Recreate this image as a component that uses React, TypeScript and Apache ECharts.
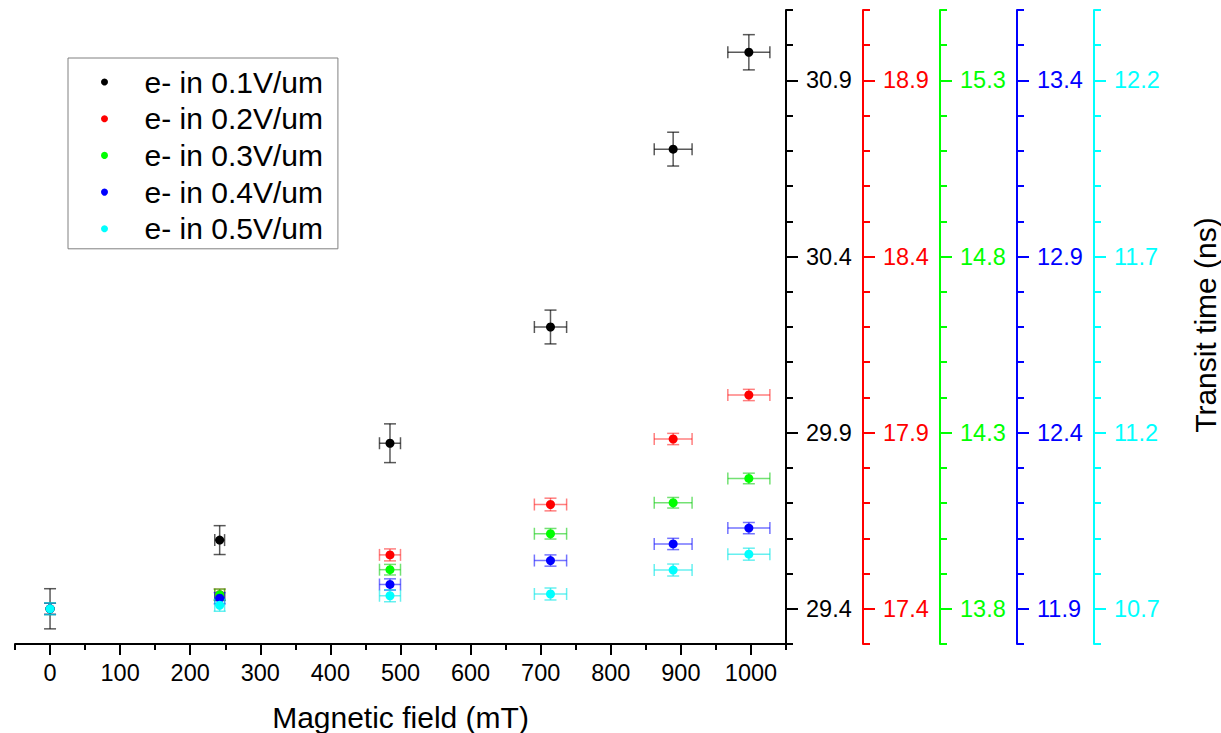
import React, { useEffect, useRef } from "react";
import * as echarts from "echarts";

// Magnetic field (mT) and its uncertainty
const fieldValues = [0, 242, 485, 714, 889, 997];
const fieldErrors = [0, 7, 15, 23, 27, 30];

// Transit times (ns) per drift field
const seriesNames = ["e- in 0.1V/um", "e- in 0.2V/um", "e- in 0.3V/um", "e- in 0.4V/um", "e- in 0.5V/um"];
const time01 = [29.4, 29.595, 29.87, 30.2, 30.705, 30.98];
const err01 = [0.057, 0.041, 0.055, 0.048, 0.048, 0.05];
const time02 = [17.4, 17.44, 17.553, 17.696, 17.882, 18.007];
const err02 = [0.016, 0.016, 0.017, 0.018, 0.016, 0.016];
const time03 = [13.8, 13.84, 13.911, 14.013, 14.101, 14.17];
const err03 = [0.016, 0.016, 0.015, 0.015, 0.015, 0.015];
const time04 = [11.9, 11.93, 11.969, 12.037, 12.084, 12.129];
const err04 = [0.016, 0.016, 0.016, 0.016, 0.016, 0.016];
const time05 = [10.7, 10.71, 10.737, 10.742, 10.81, 10.855];
const err05 = [0.017, 0.017, 0.017, 0.017, 0.017, 0.017];

// Axis extents and labelled ticks
const axisMins = [29.3, 17.3, 13.7, 11.8, 10.6];
const axisMaxs = [31.1, 19.1, 15.5, 13.6, 12.4];
const majorTicks01 = [29.4, 29.9, 30.4, 30.9];
const majorTicks02 = [17.4, 17.9, 18.4, 18.9];
const majorTicks03 = [13.8, 14.3, 14.8, 15.3];
const majorTicks04 = [11.9, 12.4, 12.9, 13.4];
const majorTicks05 = [10.7, 11.2, 11.7, 12.2];
const xTickLabels = [0, 100, 200, 300, 400, 500, 600, 700, 800, 900, 1000];

const FONT = "'Liberation Sans', Arial, sans-serif";
const colors = ["#000000", "#ff0000", "#00ff00", "#0000ff", "#00ffff"];
const errColors = ["rgba(0,0,0,0.65)", "rgba(255,0,0,0.5)", "rgba(0,200,0,0.55)", "rgba(0,0,255,0.55)", "rgba(0,230,230,0.6)"];
const axisOffsets = [0, 77, 154, 231, 308];

export default function App() {
  const ref = useRef<HTMLDivElement>(null);
  useEffect(() => {
    if (!ref.current) return;
    const chart = echarts.init(ref.current, undefined, { renderer: "svg" });
    const times = [time01, time02, time03, time04, time05];
    const errs = [err01, err02, err03, err04, err05];
    const majors = [majorTicks01, majorTicks02, majorTicks03, majorTicks04, majorTicks05];

    const yAxes: any[] = [];
    for (let i = 0; i < 5; i++) {
      yAxes.push({
        type: "value",
        position: "right",
        offset: axisOffsets[i],
        min: axisMins[i],
        max: axisMaxs[i],
        interval: 0.1,
        axisLine: { show: true, onZero: false, lineStyle: { color: colors[i], width: 2 } },
        axisTick: { show: true, length: 7, lineStyle: { color: colors[i], width: 2 } },
        axisLabel: { show: false },
        splitLine: { show: false },
      });
      yAxes.push({
        type: "value",
        position: "right",
        offset: axisOffsets[i],
        min: axisMins[i],
        max: axisMaxs[i],
        axisLine: { show: false, onZero: false },
        axisTick: { show: true, length: 12, customValues: majors[i], lineStyle: { color: colors[i], width: 2 } },
        axisLabel: {
          show: true,
          customValues: majors[i],
          formatter: (v: number) => v.toFixed(1),
          color: colors[i],
          fontSize: 23.5,
          fontFamily: FONT,
          margin: 20,
        },
        splitLine: { show: false },
      });
    }

    const series: any[] = [];
    for (let i = 0; i < 5; i++) {
      const data = fieldValues.map((x, k) => [x, times[i][k], fieldErrors[k], errs[i][k]]);
      series.push({
        type: "custom",
        name: "err" + i,
        xAxisIndex: 0,
        yAxisIndex: 2 * i,
        z: 2,
        silent: true,
        encode: { x: 0, y: 1 },
        data,
        renderItem: (params: any, api: any) => {
          const x = api.value(0);
          const y = api.value(1);
          const xe = api.value(2);
          const ye = api.value(3);
          const top = api.coord([x, y + ye]);
          const bot = api.coord([x, y - ye]);
          const l = api.coord([x - xe, y]);
          const r = api.coord([x + xe, y]);
          const cap = 6;
          const style = { stroke: errColors[i], lineWidth: 1.5 };
          const children: any[] = [
            { type: "line", shape: { x1: top[0], y1: top[1], x2: bot[0], y2: bot[1] }, style },
            { type: "line", shape: { x1: top[0] - cap, y1: top[1], x2: top[0] + cap, y2: top[1] }, style },
            { type: "line", shape: { x1: bot[0] - cap, y1: bot[1], x2: bot[0] + cap, y2: bot[1] }, style },
          ];
          if (xe > 0) {
            children.push(
              { type: "line", shape: { x1: l[0], y1: l[1], x2: r[0], y2: r[1] }, style },
              { type: "line", shape: { x1: l[0], y1: l[1] - cap, x2: l[0], y2: l[1] + cap }, style },
              { type: "line", shape: { x1: r[0], y1: r[1] - cap, x2: r[0], y2: r[1] + cap }, style }
            );
          }
          return { type: "group", children };
        },
      });
    }
    for (let i = 0; i < 5; i++) {
      series.push({
        type: "scatter",
        name: seriesNames[i],
        xAxisIndex: 0,
        yAxisIndex: 2 * i,
        z: 3,
        symbol: "circle",
        symbolSize: 9,
        itemStyle: { color: colors[i], opacity: 1 },
        data: fieldValues.map((x, k) => [x, times[i][k]]),
      });
    }

    chart.setOption({
      animation: false,
      backgroundColor: "#ffffff",
      textStyle: { fontFamily: FONT },
      grid: { left: 15, right: 435, top: 10, bottom: 89, containLabel: false, outerBoundsMode: "none" },
      legend: {
        data: seriesNames,
        orient: "vertical",
        left: 68,
        top: 58,
        borderColor: "#808080",
        borderWidth: 1,
        padding: [9, 15, 5, 33],
        itemGap: 6.7,
        itemWidth: 70,
        itemHeight: 7,
        icon: "circle",
        itemStyle: { opacity: 1 },
        textStyle: { fontSize: 30, lineHeight: 29, fontFamily: FONT, color: "#000" },
      },
      xAxis: [
        {
          type: "value",
          min: -50,
          max: 1050,
          interval: 50,
          axisLine: { show: true, onZero: false, lineStyle: { color: "#000", width: 2 } },
          axisTick: { show: true, length: 6, lineStyle: { color: "#000", width: 2 } },
          axisLabel: { show: false },
          splitLine: { show: false },
        },
        {
          type: "value",
          position: "bottom",
          min: -50,
          max: 1050,
          axisLine: { show: false, onZero: false },
          axisTick: { show: true, length: 11, customValues: xTickLabels, lineStyle: { color: "#000", width: 2 } },
          axisLabel: {
            show: true,
            customValues: xTickLabels,
            formatter: (v: number) => String(v),
            fontSize: 23.5,
            fontFamily: FONT,
            color: "#000",
            margin: 17,
          },
          splitLine: { show: false },
          name: "Magnetic field (mT)",
          nameLocation: "middle",
          nameGap: 58,
          nameTextStyle: { fontSize: 30, fontFamily: FONT, color: "#000" },
        },
      ],
      yAxis: yAxes,
      series,
      graphic: [
        {
          type: "text",
          x: 1205,
          y: 325,
          rotation: Math.PI / 2,
          style: {
            text: "Transit time (ns)",
            font: "30px 'Liberation Sans', Arial, sans-serif",
            fill: "#000",
            align: "center",
            verticalAlign: "middle",
          },
        },
      ],
    });
    return () => chart.dispose();
  }, []);
  return (
    <div
      ref={ref}
      style={{ position: "fixed", left: 0, top: 0, width: 1221, height: 733, background: "#fff" }}
    />
  );
}
